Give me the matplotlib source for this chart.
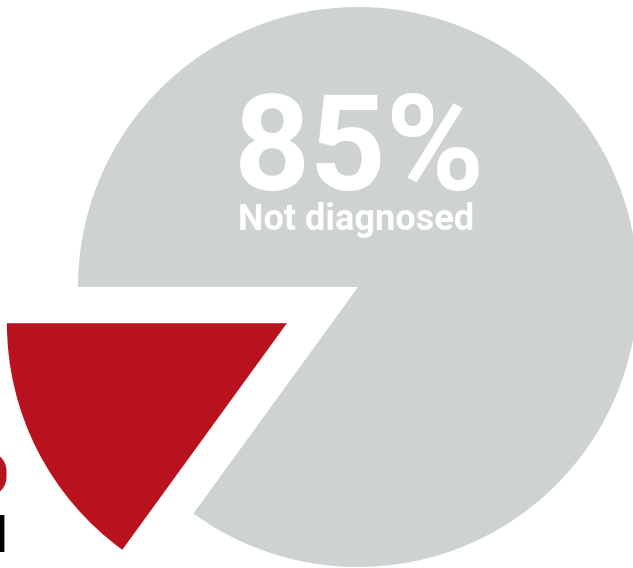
import matplotlib
matplotlib.use("Agg")
import matplotlib.pyplot as plt

labels = ["Diagnosed", "Not diagnosed"]
values = [15, 85]
colors = ["#B8121E", "#CED2D3"]
explode = [0.285, 0.0]

W, H, DPI = 633, 568, 100
R_PX = 280.0
CX, CY = 358.0, 287.0

fig = plt.figure(figsize=(W / DPI, H / DPI), dpi=DPI)
ax = fig.add_axes([0, 0, 1, 1])
ax.pie(values, colors=colors, explode=explode, startangle=180,
       counterclock=True, radius=1.0, wedgeprops=dict(linewidth=0))
ax.set_xlim(-CX / R_PX, (W - CX) / R_PX)
ax.set_ylim(-(H - CY) / R_PX, CY / R_PX)
ax.set_aspect("equal")
ax.axis("off")

def px(x, y):
    return (x - CX) / R_PX, (CY - y) / R_PX

font = ["Roboto", "DejaVu Sans"]
ax.text(*px(360, 190), f"{values[1]}%", color="white", fontsize=96,
        fontweight="bold", ha="center", va="baseline", family=font)
ax.text(*px(356, 230), labels[1], color="white", fontsize=26,
        fontweight="bold", ha="center", va="baseline", family=font)

ax.text(*px(12, 495), f"{values[0]}%", color=colors[0], fontsize=96,
        fontweight="bold", ha="right", va="baseline", family=font)
ax.text(*px(8, 552), labels[0], color="black", fontsize=36,
        fontweight="bold", ha="right", va="baseline", family=font)

fig.savefig("out.png", dpi=DPI)
